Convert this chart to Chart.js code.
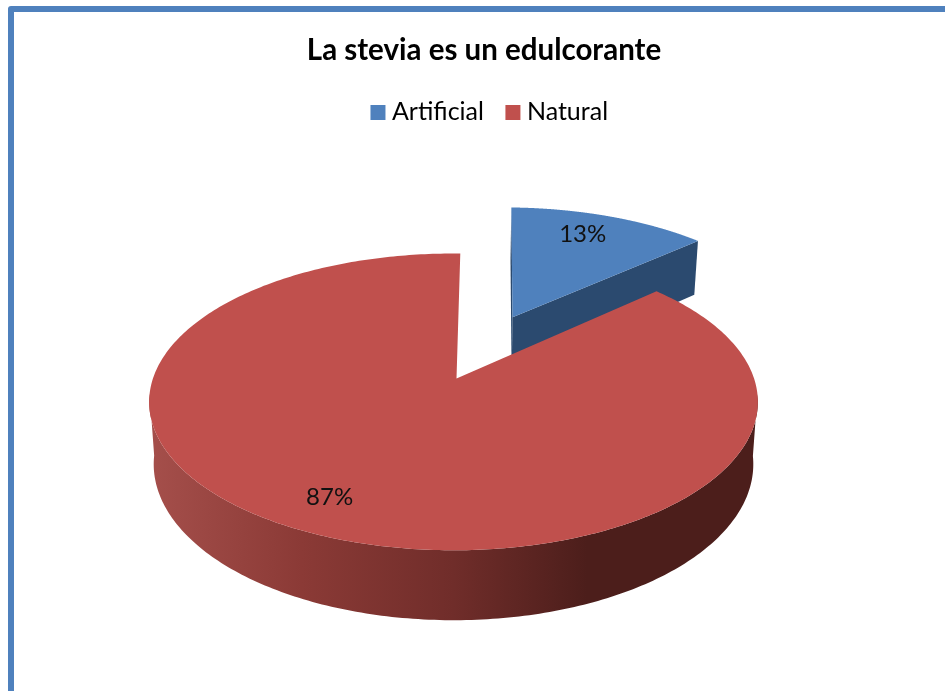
<!DOCTYPE html>
<html>
<head>
<meta charset="utf-8">
<title>La stevia es un edulcorante</title>
<script src="https://cdn.jsdelivr.net/npm/chart.js@4"></script>
<style>
  html, body { margin: 0; padding: 0; background: #fff; overflow: hidden; width: 945px; height: 691px; }
  #frame { position: absolute; left: 8px; top: 6px; width: 1100px; height: 1000px; border: 6px solid #4f81bd; border-radius: 3px; }
  #myPieChart { position: absolute; left: 0; top: 0; }
</style>
</head>
<body>
<div id="frame"></div>
<canvas id="myPieChart" width="945" height="691"></canvas>
<script>
  var categories = ['Artificial', 'Natural'];
  var seriesValues = [13, 87];
  var sliceColors = ['#4f81bd', '#c0504d'];
  var explode = [0.5, 0];
  var sideStops = [
    [[0, '#2b4a6f'], [1, '#2b4a6f']],
    [[0, '#a54f4b'], [0.25, '#8b3a36'], [0.5, '#702d2a'], [0.72, '#4c1e1b'], [1, '#4c1e1b']]
  ];
  var cutSideColors = ['#2b4a6f', null];

  // view of the tilted pie, relative to what the library laid out
  var view = { shiftX: -19, shiftY: 0, scaleX: 1.234, scaleY: 0.594, perspective: 0.158, depth: 0.2545, bottomShrink: 0.985 };
  var apexNudge = [0, 3];
  var labelNudge = -9.5;

  function project(el, u, v, low) {
    var r = el.outerRadius;
    var s = 1 / (1 - view.perspective * v);
    var f = low ? view.bottomShrink : 1;
    return {
      x: el.x + view.shiftX + r * view.scaleX * u * s * f,
      y: el.y + view.shiftY + r * (view.scaleY * v + (low ? view.depth : 0)) * s * f
    };
  }

  function sliceCentre(el, i) {
    var mid = (el.startAngle + el.endAngle) / 2;
    return { u: explode[i] * Math.cos(mid), v: explode[i] * Math.sin(mid) };
  }

  function rimAngle(el, k, steps) {
    return el.startAngle + (el.endAngle - el.startAngle) * k / steps;
  }

  function rimPoints(el, i, low, steps) {
    var c = sliceCentre(el, i);
    var pts = [];
    for (var k = 0; k <= steps; k++) {
      var a = rimAngle(el, k, steps);
      pts.push(project(el, c.u + Math.cos(a), c.v + Math.sin(a), low));
    }
    return pts;
  }

  function fillPath(ctx, pts, style) {
    ctx.beginPath();
    pts.forEach(function (p, n) {
      if (n === 0) ctx.moveTo(p.x, p.y); else ctx.lineTo(p.x, p.y);
    });
    ctx.closePath();
    ctx.fillStyle = style;
    ctx.fill();
  }

  var pie3d = {
    id: 'pie3d',
    afterLayout: function (chart) {
      // title and legend sit a little right of the canvas middle
      chart.titleBlock.left += 11.5;
      chart.titleBlock.right += 11.5;
      chart.legend.left += 19.75;
      chart.legend.right += 19.75;
    },
    beforeDatasetsDraw: function (chart) {
      var ctx = chart.ctx;
      var arcs = chart.getDatasetMeta(0).data;
      var steps = 360;
      arcs.forEach(function (el, i) {
        var c = sliceCentre(el, i);
        var top = rimPoints(el, i, false, steps);
        var low = rimPoints(el, i, true, steps);
        var apexTop = project(el, c.u, c.v, false);
        var apexLow = project(el, c.u, c.v, true);
        apexTop.x += apexNudge[i];

        // outer side, shaded left to right, only the part facing the viewer
        var upper = [];
        var lower = [];
        for (var k = 0; k <= steps; k++) {
          if (Math.sin(rimAngle(el, k, steps)) > 0.1) {
            upper.push(top[k]);
            lower.unshift(low[k]);
          }
        }
        if (upper.length) {
          var xs = upper.concat(lower).map(function (p) { return p.x; });
          var grad = ctx.createLinearGradient(Math.min.apply(null, xs), 0, Math.max.apply(null, xs), 0);
          sideStops[i].forEach(function (st) { grad.addColorStop(st[0], st[1]); });
          fillPath(ctx, upper.concat(lower), grad);
        }

        // cut sides
        if (cutSideColors[i]) {
          fillPath(ctx, [apexTop, top[0], low[0], apexLow], cutSideColors[i]);
          fillPath(ctx, [apexTop, top[steps], low[steps], apexLow], cutSideColors[i]);
        }

        // top face
        fillPath(ctx, [apexTop].concat(top), sliceColors[i]);
      });
      return false;
    },
    afterDraw: function (chart) {
      var ctx = chart.ctx;
      var total = seriesValues.reduce(function (a, b) { return a + b; }, 0);
      chart.getDatasetMeta(0).data.forEach(function (el, i) {
        var c = sliceCentre(el, i);
        var mid = (el.startAngle + el.endAngle) / 2;
        var p = project(el, c.u + 0.8 * Math.cos(mid), c.v + 0.8 * Math.sin(mid), false);
        ctx.save();
        ctx.font = '24px Lato';
        ctx.fillStyle = '#111';
        ctx.textAlign = 'center';
        ctx.textBaseline = 'middle';
        ctx.fillText(Math.round(seriesValues[i] / total * 100) + '%', p.x + labelNudge, p.y);
        ctx.restore();
      });
    }
  };

  var ctxPie = document.getElementById('myPieChart').getContext('2d');
  var pieChart = new Chart(ctxPie, {
    type: 'pie',
    plugins: [pie3d],
    data: {
      labels: categories,
      datasets: [{
        data: seriesValues,
        backgroundColor: sliceColors,
        borderWidth: 0
      }]
    },
    options: {
      responsive: false,
      animation: false,
      rotation: 1.5,
      layout: { padding: { top: 33, bottom: 69 } },
      plugins: {
        tooltip: { enabled: false },
        title: {
          display: true,
          text: 'La stevia es un edulcorante',
          color: '#000',
          font: { family: 'Lato', size: 29.5, weight: 'bold' },
          padding: { top: 0, bottom: 4 }
        },
        legend: {
          position: 'top',
          labels: {
            boxWidth: 3,
            boxHeight: 3,
            padding: 27.5,
            color: '#222',
            font: { family: 'Lato', size: 25 },
            generateLabels: function () {
              return categories.map(function (name, i) {
                return { text: name, fillStyle: sliceColors[i], strokeStyle: sliceColors[i], lineWidth: 12, index: i };
              });
            }
          }
        }
      }
    }
  });
</script>
</body>
</html>
